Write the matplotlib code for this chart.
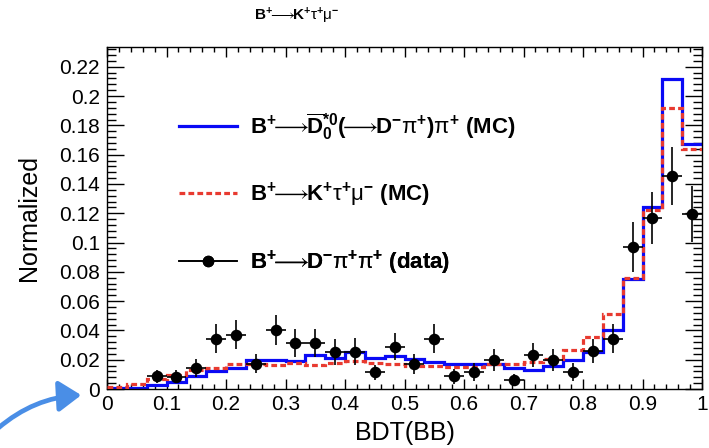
import numpy as np
import matplotlib
matplotlib.use("Agg")
import matplotlib.pyplot as plt
from matplotlib.lines import Line2D
from matplotlib.patches import FancyArrowPatch
from matplotlib.ticker import MultipleLocator, FuncFormatter

# ---------------- data ----------------
bin_edges = np.linspace(0.0, 1.0, 31)

blue_mc = [0.0005, 0.001, 0.0025, 0.005, 0.009, 0.0125, 0.0145, 0.0197, 0.0197, 0.019,
           0.0233, 0.021, 0.0254, 0.0215, 0.0224, 0.0204, 0.0184, 0.017, 0.017, 0.017,
           0.0143, 0.013, 0.0158, 0.0195, 0.025, 0.040, 0.075, 0.1245, 0.2115, 0.167]

red_mc = [0.0016, 0.0032, 0.007, 0.0098, 0.013, 0.0145, 0.0174, 0.017, 0.0165, 0.018,
          0.0165, 0.018, 0.019, 0.018, 0.0174, 0.0158, 0.0158, 0.015, 0.015, 0.017,
          0.0174, 0.0186, 0.0204, 0.0265, 0.0356, 0.051, 0.0755, 0.122, 0.192, 0.164]

data_y = [np.nan, np.nan, 0.0086, 0.0084, 0.0143, 0.0344, 0.037, 0.0174, 0.040, 0.0313,
          0.0313, 0.0254, 0.0256, 0.0113, 0.029, 0.017, 0.0344, 0.0086, 0.0118, 0.020,
          0.0061, 0.0233, 0.020, 0.0118, 0.026, 0.0344, 0.097, 0.1167, 0.1455, 0.1197]

data_err = [np.nan, np.nan, 0.0045, 0.0045, 0.006, 0.010, 0.010, 0.0068, 0.0102, 0.0096,
            0.0096, 0.009, 0.009, 0.0050, 0.0093, 0.007, 0.010, 0.005, 0.006, 0.0075,
            0.004, 0.008, 0.0075, 0.006, 0.008, 0.010, 0.017, 0.018, 0.020, 0.019]

ARW = r"\!\!\longrightarrow\!\!"
title = r"$\mathbf{B^{+}}" + ARW + r"\mathbf{K^{+}}\mathrm{\tau}^{\mathbf{+}}\mathrm{\mu}^{\mathbf{-}}$"
lab_blue = (r"$\mathbf{B^{+}}" + ARW + r"\mathbf{\overline{D}_{0}^{*0}(}" + ARW +
            r"\mathbf{D^{-}}\mathrm{\pi}^{\mathbf{+}}\mathbf{)}\mathrm{\pi}^{\mathbf{+}}$ (MC)")
lab_red = (r"$\mathbf{B^{+}}" + ARW +
           r"\mathbf{K^{+}}\mathrm{\tau}^{\mathbf{+}}\mathrm{\mu}^{\mathbf{-}}$ (MC)")
lab_data = (r"$\mathbf{B^{+}}" + ARW +
            r"\mathbf{D^{-}}\mathrm{\pi}^{\mathbf{+}}\mathrm{\pi}^{\mathbf{+}}$ (data)")

# ---------------- style ----------------
plt.rcParams['font.family'] = ['Liberation Sans', 'DejaVu Sans']
plt.rcParams['mathtext.fontset'] = 'custom'
plt.rcParams['mathtext.rm'] = 'Liberation Sans'
plt.rcParams['mathtext.it'] = 'Liberation Sans:italic'
plt.rcParams['mathtext.bf'] = 'Liberation Sans:bold'
plt.rcParams['mathtext.fallback'] = 'cm'

BLUE = '#0a0af5'
RED = '#e83a30'

fig = plt.figure(figsize=(7.09, 4.48), dpi=100)
W, H = 709, 448
L, R, T, B = 107, 702, 47, 389
ax = fig.add_axes([L / W, 1 - B / H, (R - L) / W, (B - T) / H])

centers = 0.5 * (bin_edges[:-1] + bin_edges[1:])
halfw = 0.5 * np.diff(bin_edges)

ax.stairs(blue_mc, bin_edges, color=BLUE, lw=2.3, baseline=None, zorder=2)
ax.stairs(red_mc, bin_edges, color=RED, lw=2.3, ls=(0, (1.8, 1.0)), baseline=None, zorder=3)
ax.errorbar(centers, data_y, yerr=data_err, xerr=halfw, fmt='o', color='black',
            ms=7.3, elinewidth=1.2, capsize=0, zorder=4)

ax.set_xlim(0, 1)
ax.set_ylim(0, 0.2335)

ax.xaxis.set_major_locator(MultipleLocator(0.1))
ax.xaxis.set_minor_locator(MultipleLocator(0.02))
ax.yaxis.set_major_locator(MultipleLocator(0.02))
ax.yaxis.set_minor_locator(MultipleLocator(0.004))
fmt = FuncFormatter(lambda v, p: "%g" % round(v, 4))
ax.xaxis.set_major_formatter(fmt)
ax.yaxis.set_major_formatter(fmt)

ax.tick_params(axis='both', which='both', direction='in', top=True, right=True,
               labelsize=15, width=1.0, colors='black')
ax.tick_params(axis='x', which='major', length=7.4, pad=4)
ax.tick_params(axis='x', which='minor', length=3.7)
ax.tick_params(axis='y', which='major', length=12.5, pad=5)
ax.tick_params(axis='y', which='minor', length=6.3)
for s in ax.spines.values():
    s.set_linewidth(1.0)

ax.set_xlabel("BDT(BB)", fontsize=18, labelpad=5)
ax.set_ylabel("Normalized", fontsize=18, labelpad=13)

fig.text(297 / W, 1 - 16 / H, title, ha='center', va='center', fontsize=11, fontweight='bold')

# legend (three separate single-entry legends, ROOT-like spacing)
handles = [Line2D([], [], color=BLUE, lw=2.3),
           Line2D([], [], color=RED, lw=2.3, ls=(0, (1.8, 1.0))),
           Line2D([], [], color='black', lw=1.2, marker='o', ms=7.3)]
labels = [lab_blue, lab_red, lab_data]
ypix = [127, 195, 263]
fs = 16
for h, lab, yp in zip(handles, labels, ypix):
    lg = ax.legend([h], [lab], loc='center left',
                   bbox_to_anchor=((179 - L) / (R - L), (B - yp) / (B - T)),
                   frameon=False, handlelength=58 / (fs * 100 / 72), handletextpad=13 / (fs * 100 / 72),
                   borderpad=0, borderaxespad=0, prop={'weight': 'bold', 'size': fs})
    ax.add_artist(lg)

# blue annotation arrow in lower-left corner
arr = FancyArrowPatch(posA=(-4 / W, 1 - 430 / H), posB=(84 / W, 1 - 395 / H),
                      transform=fig.transFigure, connectionstyle="arc3,rad=-0.18",
                      arrowstyle="-|>,head_length=8,head_width=5.5", lw=3.4,
                      color='#4a8ee6', mutation_scale=1.7)
fig.add_artist(arr)

fig.savefig("out.png", dpi=100)
